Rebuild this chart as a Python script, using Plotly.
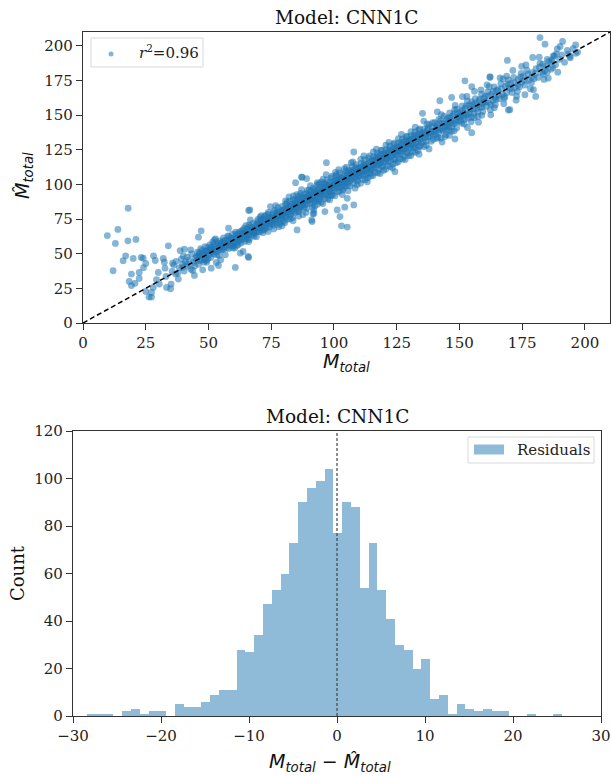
import plotly.graph_objects as go

# ---------------- data ----------------
# scatter: true total mass vs predicted total mass
scatter_points = [
    # low-mass scatter / outliers
    (9.7, 63.1), (13.9, 67.5), (12.9, 57.4), (18.0, 82.8), (17.9, 59.3), (21.1, 60.3),
    (12.0, 37.7), (17.0, 48.5), (16.0, 45.0), (20.0, 46.6), (18.4, 30.0), (19.3, 35.3),
    (19.3, 27.0), (20.7, 28.6), (22.4, 32.2), (22.4, 36.5), (23.2, 47.3), (24.0, 46.8),
    (25.0, 43.0), (24.1, 39.9), (25.0, 22.8), (26.3, 18.7), (27.3, 18.7), (27.3, 22.1),
    (28.0, 25.7), (28.1, 48.5), (28.8, 45.1), (30.0, 36.5), (29.3, 31.2), (30.4, 28.1),
    (32.0, 46.6), (32.4, 43.9), (32.7, 39.6), (33.1, 33.6), (33.3, 25.7), (34.0, 55.7),
    (34.9, 24.7), (35.1, 28.1), (35.7, 43.2), (36.9, 35.3), (38.0, 31.7), (38.7, 52.3),
    (39.7, 40.1), (40.0, 48.5), (40.4, 53.3), (41.3, 42.5), (42.9, 52.8), (43.7, 37.9),
    (44.4, 34.3), (45.3, 48.0), (46.4, 49.7), (47.1, 66.5), (46.0, 61.9), (47.7, 38.4),
    (48.4, 45.6), (49.3, 43.9), (51.1, 39.6), (51.3, 51.6), (52.4, 60.0), (53.1, 43.7),
    (54.0, 41.5), (54.9, 45.6), (55.3, 54.0), (58.0, 68.4), (60.0, 55.7), (60.7, 40.1),
    (66.0, 47.3), (66.0, 81.2), (66.7, 74.4), (66.0, 58.8), (62.7, 50.4), (68.0, 64.8),
    (72.0, 67.2), (74.7, 84.0), (77.3, 79.2), (85.3, 67.2), (84.7, 101.3), (87.3, 105.2),
    (89.1, 104.2), (91.3, 73.2), (92.0, 79.2), (91.1, 74.4), (91.7, 78.7), (96.4, 80.4),
    (102.4, 76.8), (103.0, 70.1), (105.3, 69.2), (101.3, 81.6), (104.3, 83.6), (107.9, 85.2),
    (105.3, 90.0), (97.0, 115.7), (107.9, 123.4), (87.1, 105.2), (66.5, 81.6), (65.8, 48.0),
    (63.8, 51.6), (142.2, 160.4), (152.2, 174.8), (154.9, 170.5), (162.2, 177.7),
    (168.8, 178.2), (169.5, 153.7), (154.9, 137.3), (148.2, 132.8), (124.3, 109.2),
    (135.3, 151.3), (146.9, 162.8), (145.1, 142.6), (182.1, 206.0), (184.1, 201.2),
    (191.1, 203.2), (196.3, 200.7), (194.0, 192.4), (187.2, 184.4), (185.4, 176.7),
    (180.4, 163.5), (170.1, 153.9), (158.9, 149.9), (169.1, 189.5), (179.2, 191.6),
    (174.8, 185.2), (162.2, 177.2), (190.1, 199.6), (189.0, 197.8), (193.4, 194.0),
    (176.1, 164.7), (183.4, 179.6), (185.0, 190.2), (186.6, 188.4), (187.8, 192.9),
    # main band, first pass
    (35.5, 37.2), (36.2, 41.8), (37.1, 44.5), (37.8, 35.9), (38.4, 39.8), (39.2, 46.1), (39.6, 42.3),
    (40.3, 37.5), (40.8, 44.2), (41.5, 47.6), (41.9, 40.9), (42.4, 45.3), (43.0, 38.8), (43.3, 49.9),
    (43.9, 43.6), (44.5, 41.2), (44.8, 47.1),
    (45.2, 44.8), (45.6, 51.2), (46.1, 42.4), (46.5, 48.3), (46.9, 53.6), (47.3, 46.0), (47.8, 50.7),
    (48.2, 43.9), (48.6, 55.1), (49.0, 48.9), (49.4, 52.3), (49.8, 46.5),
    (50.2, 51.8), (50.5, 56.4), (50.9, 47.2), (51.3, 53.9), (51.7, 58.6), (52.0, 49.8), (52.4, 55.2),
    (52.8, 60.7), (53.1, 51.5), (53.5, 57.9), (53.9, 54.0), (54.2, 48.7), (54.6, 59.3), (54.9, 55.8),
    (55.3, 52.6), (55.6, 58.1), (56.0, 61.4), (56.3, 54.9), (56.7, 49.3), (57.0, 59.8), (57.4, 56.2),
    (57.7, 62.9), (58.1, 53.7), (58.4, 58.5), (58.8, 61.1), (59.1, 55.6), (59.5, 64.2), (59.8, 57.3),
    (60.2, 60.9), (60.5, 54.1), (60.9, 63.7), (61.2, 58.4), (61.6, 61.8), (61.9, 56.7), (62.3, 65.5),
    (62.6, 60.2), (63.0, 57.8), (63.3, 63.9), (63.7, 67.1), (64.0, 61.4), (64.4, 58.9), (64.7, 65.2),
    (64.9, 70.3),
    (65.3, 62.8), (65.6, 67.9), (66.0, 64.1), (66.3, 60.5), (66.7, 69.6), (67.0, 66.2), (67.4, 63.4),
    (67.7, 71.8), (68.1, 67.5), (68.4, 64.9), (68.8, 70.2), (69.1, 62.3), (69.5, 73.1), (69.8, 68.4),
    (69.2, 66.0),
    (70.2, 71.3), (70.5, 65.8), (70.9, 74.6), (71.2, 69.9), (71.6, 67.3), (71.9, 72.8), (72.3, 76.9),
    (72.6, 70.5), (73.0, 68.2), (73.3, 74.1), (73.7, 78.6), (74.0, 71.7), (74.4, 69.4), (74.7, 75.9),
    (74.9, 73.2), (73.8, 66.1), (71.0, 77.4),
    (75.2, 73.8), (75.5, 78.2), (75.8, 70.6), (76.1, 76.4), (76.4, 81.3), (76.7, 72.9), (77.0, 75.1),
    (77.3, 79.8), (77.6, 83.4), (77.9, 74.5), (78.2, 77.6), (78.5, 71.8), (78.8, 80.9), (79.1, 76.3),
    (79.4, 84.1), (79.7, 78.8), (76.0, 67.9), (78.0, 69.5), (79.9, 73.4),
    (80.2, 81.7), (80.5, 77.2), (80.8, 85.6), (81.1, 79.4), (81.4, 74.8), (81.7, 83.2), (82.0, 80.1),
    (82.3, 87.9), (82.6, 78.3), (82.9, 84.7), (83.2, 81.5), (83.5, 76.1), (83.8, 89.2), (84.1, 82.8),
    (84.4, 86.3), (84.7, 79.9), (80.4, 72.3), (82.1, 91.0), (83.7, 73.8), (84.9, 84.5), (81.3, 86.8),
    (85.2, 88.1), (85.5, 83.6), (85.8, 91.4), (86.1, 80.7), (86.4, 86.9), (86.7, 93.5), (87.0, 84.3),
    (87.3, 89.7), (87.6, 78.2), (87.9, 87.4), (88.2, 92.8), (88.5, 85.1), (88.8, 90.3), (89.1, 82.6),
    (89.4, 95.7), (89.7, 88.6), (85.9, 77.1), (87.1, 96.2), (88.9, 79.8), (89.9, 92.1), (86.6, 84.0),
    (90.2, 91.0), (90.5, 86.4), (90.8, 94.6), (91.1, 89.2), (91.4, 83.5), (91.7, 97.3), (92.0, 92.1),
    (92.3, 87.8), (92.6, 95.4), (92.9, 90.5), (93.2, 99.6), (93.5, 85.7), (93.8, 93.9), (94.1, 89.3),
    (94.4, 97.8), (94.7, 92.6), (90.6, 99.1), (91.9, 81.7), (93.4, 101.2), (94.9, 87.1), (92.2, 94.0),
    (95.2, 96.3), (95.5, 91.2), (95.8, 100.4), (96.1, 94.7), (96.4, 89.6), (96.7, 98.1), (97.0, 93.4),
    (97.3, 103.2), (97.6, 96.8), (97.9, 91.9), (98.2, 99.5), (98.5, 95.1), (98.8, 104.7), (99.1, 97.6),
    (99.4, 92.3), (99.7, 101.3), (95.6, 86.2), (96.9, 107.1), (98.3, 88.9), (99.9, 96.0), (97.1, 99.8),
    (95.0, 101.9),
    (100.2, 102.1), (100.5, 97.4), (100.8, 105.9), (101.1, 99.2), (101.4, 94.6), (101.7, 103.7),
    (102.0, 100.3), (102.3, 108.4), (102.6, 97.8), (102.9, 104.6), (103.2, 101.1), (103.5, 95.9),
    (103.8, 107.2), (104.1, 102.5), (104.4, 98.7), (104.7, 109.8), (100.4, 91.8), (101.9, 110.6),
    (103.3, 92.7), (104.9, 104.0), (102.4, 103.3), (101.0, 106.8),
    (105.2, 106.3), (105.5, 101.4), (105.8, 110.2), (106.1, 104.1), (106.4, 98.8), (106.7, 108.6),
    (107.0, 103.5), (107.3, 112.9), (107.6, 106.9), (107.9, 100.7), (108.2, 110.7), (108.5, 105.2),
    (108.8, 114.3), (109.1, 107.8), (109.4, 102.6), (109.7, 111.9), (105.6, 95.4), (106.9, 115.6),
    (108.4, 97.3), (109.9, 105.9), (107.4, 109.0), (105.0, 112.4),
    (110.2, 111.5), (110.5, 106.2), (110.8, 115.1), (111.1, 108.9), (111.4, 103.6), (111.7, 113.4),
    (112.0, 109.6), (112.3, 117.8), (112.6, 106.7), (112.9, 114.5), (113.2, 110.3), (113.5, 104.9),
    (113.8, 119.2), (114.1, 112.6), (114.4, 108.1), (114.7, 116.3), (110.6, 100.8), (111.9, 120.5),
    (113.3, 101.9), (114.9, 110.9), (112.4, 113.1),
    (115.2, 116.9), (115.5, 111.3), (115.8, 120.1), (116.1, 114.2), (116.4, 108.6), (116.7, 118.8),
    (117.0, 113.9), (117.3, 122.6), (117.6, 116.4), (117.9, 110.7), (118.2, 120.9), (118.5, 115.3),
    (118.8, 124.5), (119.1, 117.7), (119.4, 112.8), (119.7, 121.8), (115.6, 106.5), (116.9, 125.4),
    (118.4, 107.9), (119.9, 116.1), (117.4, 118.6),
    (120.2, 121.3), (120.5, 116.0), (120.8, 125.2), (121.1, 118.7), (121.4, 113.4), (121.7, 123.9),
    (122.0, 119.5), (122.3, 127.8), (122.6, 116.8), (122.9, 124.6), (123.2, 121.0), (123.5, 114.7),
    (123.8, 129.1), (124.1, 122.4), (124.4, 118.2), (124.7, 126.7), (120.6, 110.9), (121.9, 130.4),
    (123.3, 111.8), (124.9, 121.7),
    (125.2, 126.8), (125.5, 120.9), (125.8, 130.2), (126.1, 124.3), (126.4, 118.5), (126.7, 128.7),
    (127.0, 123.6), (127.3, 132.8), (127.6, 126.1), (127.9, 120.2), (128.2, 131.0), (128.5, 125.7),
    (128.8, 134.4), (129.1, 127.9), (129.4, 122.6), (129.7, 131.5), (125.6, 116.3), (126.9, 136.1),
    (128.4, 117.9), (129.9, 126.4),
    (130.2, 131.6), (130.5, 125.9), (130.8, 135.2), (131.1, 129.0), (131.4, 123.4), (131.7, 133.8),
    (132.0, 128.4), (132.3, 137.9), (132.6, 126.6), (132.9, 134.7), (133.2, 130.8), (133.5, 124.5),
    (133.8, 139.2), (134.1, 132.3), (134.4, 127.6), (134.7, 136.4), (130.6, 120.7), (132.4, 141.3),
    (133.9, 121.8),
    (135.2, 136.6), (135.6, 130.8), (136.0, 140.1), (136.4, 133.9), (136.8, 128.2), (137.2, 139.0),
    (137.6, 134.3), (138.0, 143.2), (138.4, 136.9), (138.8, 131.1), (139.2, 141.4), (139.6, 135.6),
    (135.8, 145.7), (137.9, 125.6), (139.8, 138.2),
    (140.2, 144.5), (140.6, 136.2), (141.0, 141.8), (141.4, 134.1), (141.8, 146.9), (142.2, 139.5),
    (142.6, 133.4), (143.0, 144.2), (143.4, 138.7), (143.8, 149.3), (144.2, 141.6), (144.6, 135.9),
    (141.2, 152.4), (143.1, 130.6), (144.9, 146.7),
    (145.3, 147.8), (145.7, 141.2), (146.1, 151.6), (146.5, 144.4), (146.9, 138.3), (147.3, 149.5),
    (147.7, 143.8), (148.1, 153.9), (148.5, 146.1), (148.9, 140.7), (149.3, 151.2), (149.7, 145.5),
    (146.0, 135.4), (148.3, 157.1), (149.9, 148.9),
    (150.3, 152.4), (150.7, 146.3), (151.1, 156.7), (151.5, 149.2), (151.9, 143.6), (152.3, 155.1),
    (152.7, 150.4), (153.1, 160.2), (153.5, 147.8), (153.9, 157.3), (154.3, 151.9), (154.7, 145.2),
    (151.2, 163.4), (153.2, 141.1), (154.9, 159.8),
    (155.3, 157.6), (155.8, 151.3), (156.3, 161.9), (156.8, 154.8), (157.3, 149.1), (157.8, 160.4),
    (158.3, 155.7), (158.8, 165.1), (159.3, 152.6), (159.8, 162.3), (156.0, 167.2), (157.6, 144.9),
    (159.1, 158.4),
    (160.3, 163.7), (160.8, 156.4), (161.3, 166.8), (161.8, 159.1), (162.3, 153.9), (162.8, 165.2),
    (163.3, 160.6), (163.8, 170.3), (164.3, 157.5), (164.8, 167.6), (161.0, 171.9), (162.5, 150.2),
    (164.1, 163.0),
    (165.3, 168.4), (165.9, 161.7), (166.5, 172.6), (167.1, 164.9), (167.7, 158.3), (168.3, 170.8),
    (168.9, 166.1), (169.5, 175.4), (166.2, 176.8), (167.9, 162.2), (169.8, 169.7),
    (170.4, 172.9), (171.0, 166.3), (171.6, 177.2), (172.2, 169.8), (172.8, 163.6), (173.4, 175.6),
    (174.0, 170.4), (174.6, 180.1), (171.3, 182.3), (173.1, 167.2), (174.8, 173.8),
    (175.5, 178.1), (176.2, 171.6), (176.9, 182.4), (177.6, 175.2), (178.3, 168.9), (179.0, 180.7),
    (179.7, 176.3), (176.5, 186.2), (178.7, 173.4),
    (180.5, 183.6), (181.3, 177.2), (182.1, 187.4), (182.9, 180.9), (183.7, 175.8), (184.5, 185.3),
    (181.8, 191.8), (184.0, 182.1),
    (185.6, 188.7), (186.5, 183.2), (187.4, 192.6), (188.3, 186.4), (189.2, 181.0), (189.9, 190.3),
    (190.8, 193.5), (191.9, 188.1), (193.0, 196.8), (194.2, 191.4), (195.3, 197.9), (196.4, 194.6),
    (197.1, 195.5),
    # main band, second pass
    (45.8, 47.9), (46.7, 45.1), (47.5, 52.4), (48.4, 49.6), (49.2, 45.2), (49.7, 54.6), (46.3, 50.6),
    (48.9, 51.7),
    (50.4, 49.4), (51.0, 54.7), (51.6, 51.3), (52.2, 57.2), (52.7, 53.4), (53.3, 49.1), (53.8, 56.1),
    (54.4, 52.8), (54.8, 57.4), (50.7, 53.1),
    (55.1, 56.4), (55.9, 53.2), (56.5, 57.6), (57.2, 54.3), (57.9, 59.4), (58.6, 56.8), (59.3, 60.5),
    (59.7, 54.2), (56.1, 59.2), (58.2, 62.3),
    (60.4, 58.1), (61.0, 61.2), (61.7, 64.3), (62.1, 59.5), (62.8, 62.7), (63.5, 60.4), (64.1, 64.8),
    (64.6, 62.1), (60.8, 65.6), (63.1, 66.2), (61.4, 56.0), (64.3, 68.4),
    (65.1, 65.7), (65.8, 63.6), (66.4, 66.9), (67.2, 68.8), (67.8, 65.3), (68.6, 68.1), (69.3, 71.5),
    (69.9, 65.9), (66.1, 70.8), (68.2, 62.6), (65.5, 60.4), (69.7, 74.8),
    (70.3, 69.1), (70.8, 72.6), (71.4, 70.2), (72.0, 74.9), (72.5, 68.7), (73.1, 72.3), (73.6, 75.8),
    (74.2, 73.6), (74.6, 71.0), (71.7, 65.2), (73.9, 79.9), (70.6, 76.3), (72.8, 77.8),
    (75.3, 76.0), (75.9, 79.6), (76.5, 74.6), (77.1, 78.1), (77.8, 76.9), (78.4, 79.7), (79.0, 74.2),
    (79.6, 81.7), (75.7, 72.1), (78.9, 77.5), (76.8, 84.7), (79.3, 70.1), (77.4, 71.3),
    (80.3, 79.3), (80.9, 82.9), (81.5, 81.0), (82.2, 84.2), (82.8, 81.4), (83.4, 85.9), (84.0, 80.7),
    (84.6, 88.6), (81.0, 76.4), (83.0, 78.6), (84.3, 84.1), (80.7, 88.1), (82.5, 75.2), (83.9, 91.7),
    (85.4, 86.2), (86.0, 89.3), (86.5, 82.5), (87.2, 87.8), (87.8, 90.9), (88.4, 88.0), (89.0, 86.3),
    (89.6, 90.7), (85.7, 80.3), (88.1, 83.4), (86.8, 91.8), (89.2, 93.6), (87.5, 85.6), (85.1, 92.7),
    (90.3, 88.7), (90.9, 92.3), (91.5, 90.6), (92.1, 96.2), (92.7, 88.9), (93.3, 93.1), (93.9, 96.4),
    (94.5, 91.2), (90.1, 95.8), (92.4, 84.4), (94.0, 100.3), (91.2, 86.1), (93.7, 88.0), (94.8, 95.3),
    (95.3, 94.1), (95.9, 97.7), (96.5, 92.8), (97.2, 98.9), (97.8, 95.0), (98.4, 101.8), (99.0, 94.6),
    (99.6, 99.0), (95.7, 103.8), (97.5, 89.5), (98.9, 92.0), (96.3, 100.9), (99.3, 105.9), (98.0, 97.3),
    (100.3, 99.8), (100.9, 103.1), (101.5, 98.1), (102.1, 105.3), (102.7, 101.4), (103.3, 104.0),
    (103.9, 99.5), (104.5, 106.3), (100.6, 108.7), (102.2, 95.1), (104.2, 111.4), (101.3, 101.5),
    (103.6, 97.0), (104.8, 101.6),
    (105.3, 104.2), (105.9, 108.0), (106.5, 102.6), (107.1, 110.1), (107.7, 104.5), (108.3, 108.3),
    (108.9, 103.9), (109.5, 109.6), (105.4, 99.0), (107.5, 116.3), (109.2, 99.8), (106.2, 106.9),
    (108.7, 112.1), (109.8, 107.2),
    (110.3, 108.9), (110.9, 112.6), (111.5, 107.1), (112.1, 114.8), (112.7, 110.9), (113.3, 107.7),
    (113.9, 115.9), (114.5, 110.5), (110.7, 118.1), (112.5, 103.4), (114.2, 120.6), (111.3, 110.6),
    (113.6, 112.4), (114.8, 106.0),
    (115.3, 114.3), (115.9, 117.6), (116.5, 112.3), (117.1, 120.0), (117.7, 114.8), (118.3, 118.2),
    (118.9, 113.1), (119.5, 119.3), (115.7, 123.4), (117.5, 108.4), (119.2, 124.7), (116.2, 115.6),
    (118.7, 121.7), (119.8, 110.2),
    (120.3, 119.2), (120.9, 122.7), (121.5, 117.1), (122.1, 125.1), (122.7, 120.4), (123.3, 123.3),
    (123.9, 117.9), (124.5, 124.5), (120.7, 128.3), (122.4, 112.9), (124.2, 130.0), (121.2, 120.9),
    (123.6, 126.0), (124.8, 115.6),
    (125.3, 124.0), (125.9, 127.7), (126.5, 122.0), (127.1, 130.3), (127.7, 124.9), (128.3, 128.5),
    (128.9, 122.9), (129.5, 129.8), (125.7, 133.1), (127.4, 118.2), (129.2, 134.9), (126.2, 125.6),
    (128.7, 131.9), (129.8, 120.8),
    (130.3, 129.4), (130.9, 132.7), (131.5, 126.8), (132.1, 135.6), (132.7, 130.2), (133.3, 133.0),
    (133.9, 127.4), (134.5, 134.6), (130.7, 138.0), (132.4, 123.2), (134.2, 140.1), (131.2, 130.8),
    (133.6, 136.2), (134.8, 130.0),
    (135.4, 134.1), (136.1, 137.7), (136.8, 131.4), (137.5, 140.8), (138.2, 134.9), (138.9, 138.4),
    (139.6, 132.6), (135.9, 127.3), (137.1, 143.6), (139.3, 144.5), (136.5, 136.3),
    (140.4, 139.3), (141.1, 143.2), (141.8, 137.4), (142.5, 146.1), (143.2, 140.3), (143.9, 143.8),
    (144.6, 139.4), (140.9, 133.2), (142.8, 150.4), (144.3, 134.5), (141.5, 140.7),
    (145.4, 144.5), (146.2, 148.3), (147.0, 142.0), (147.8, 151.0), (148.6, 144.8), (149.4, 148.6),
    (145.9, 139.1), (147.9, 138.7), (149.0, 154.3), (146.7, 146.4),
    (150.4, 149.8), (151.2, 153.5), (152.0, 147.1), (152.8, 156.7), (153.6, 150.9), (154.4, 154.7),
    (150.9, 144.2), (153.0, 163.5), (154.8, 148.4), (151.7, 151.6),
    (155.5, 154.6), (156.4, 158.5), (157.3, 152.3), (158.2, 161.6), (159.1, 155.9), (159.9, 159.2),
    (155.9, 148.2), (158.6, 168.3), (157.0, 157.1),
    (160.5, 159.8), (161.5, 163.9), (162.5, 157.6), (163.5, 167.1), (164.5, 161.5), (161.9, 170.5),
    (163.9, 155.4),
    (165.6, 164.3), (166.8, 169.1), (168.0, 163.3), (169.2, 172.4), (170.6, 169.0), (171.9, 173.4),
    (173.3, 171.7), (174.3, 177.5), (167.4, 176.0), (172.6, 160.8),
    (175.9, 175.0), (177.3, 179.6), (178.8, 177.5), (180.3, 180.1), (181.9, 184.6), (183.2, 186.8),
    (185.0, 181.1), (186.9, 190.1), (188.6, 194.1), (179.5, 168.4),
]
mass_true = [p[0] for p in scatter_points]
mass_pred = [p[1] for p in scatter_points]
r2_label = "<i>r</i><sup>2</sup>=0.96"

# histogram of residuals (bin counts)
residual_bin_start = -28.4
residual_bin_width = 1.0
residual_counts = [1, 1, 1, 0, 2, 3, 1, 2, 2, 0, 5, 4, 4, 6, 9, 11, 11, 28, 27, 34, 47, 53, 60,
                   73, 90, 96, 99, 104, 77, 90, 88, 54, 73, 53, 41, 30, 28, 20, 24, 7, 9, 1, 5,
                   3, 2, 3, 2, 2, 0, 0, 1, 0, 0, 1]
hist_label = "Residuals"
bin_centers = [residual_bin_start + residual_bin_width * (i + 0.5) for i in range(len(residual_counts))]

scatter_ticks = [0, 25, 50, 75, 100, 125, 150, 175, 200]
hist_xticks = [-30, -20, -10, 0, 10, 20, 30]
hist_yticks = [0, 20, 40, 60, 80, 100, 120]

# ---------------- figure ----------------
W, H = 611, 776
SERIF = "DejaVu Serif"
SANS = "DejaVu Sans"
DARK = "#333333"
BLUE = "#1f77b4"
BAR = "#8fbbd9"

fig = go.Figure()

fig.add_trace(go.Scatter(
    x=mass_true, y=mass_pred, mode="markers", name=r2_label,
    marker=dict(color=BLUE, size=6.8, opacity=0.55, line=dict(width=0)),
    xaxis="x", yaxis="y", showlegend=False,
))
fig.add_trace(go.Scatter(
    x=[0, 210], y=[0, 210], mode="lines",
    line=dict(color="black", width=1.5, dash="5px,3px"),
    xaxis="x", yaxis="y", showlegend=False, hoverinfo="skip",
))

fig.add_trace(go.Bar(
    x=bin_centers, y=residual_counts, width=residual_bin_width, name=hist_label,
    marker=dict(color=BAR, line=dict(width=0)),
    xaxis="x2", yaxis="y2", showlegend=False,
))
fig.add_trace(go.Scatter(
    x=[0, 0], y=[0, 120], mode="lines",
    line=dict(color="#444444", width=1.2, dash="3px,2px"),
    xaxis="x2", yaxis="y2", showlegend=False, hoverinfo="skip",
))

def px_x(p):
    return p / W

def px_y(p):
    return 1 - p / H

axis_common = dict(
    showgrid=False, zeroline=False, showline=True, linecolor=DARK, linewidth=1.2,
    ticks="outside", ticklen=6, tickwidth=1.2, tickcolor=DARK, automargin=False,
    tickfont=dict(family=SERIF, size=15, color="#222222"),
)

fig.update_layout(
    width=W, height=H,
    margin=dict(l=0, r=0, t=0, b=0),
    paper_bgcolor="white", plot_bgcolor="white",
    bargap=0,
    xaxis=dict(domain=[px_x(83), px_x(610)], range=[0, 210], tickvals=scatter_ticks,
               anchor="y", mirror=True, **axis_common),
    yaxis=dict(domain=[px_y(323), px_y(32)], range=[0, 210], tickvals=scatter_ticks,
               anchor="x", mirror=True, **axis_common),
    xaxis2=dict(domain=[px_x(73), px_x(601)], range=[-30, 30], tickvals=hist_xticks,
                tickformat="d", anchor="y2", mirror=True, **axis_common),
    yaxis2=dict(domain=[px_y(716), px_y(431)], range=[0, 120], tickvals=hist_yticks,
                anchor="x2", mirror=True, **axis_common),
    showlegend=False,
)

# legend boxes (drawn in paper coordinates)
def rect(x0, y0, x1, y1, **kw):
    return dict(type="rect", xref="paper", yref="paper",
                x0=px_x(x0), x1=px_x(x1), y0=px_y(y1), y1=px_y(y0), **kw)

shapes = [
    rect(91, 38, 203, 67, fillcolor="white", line=dict(color="#d9d9d9", width=1)),
    dict(type="circle", xref="paper", yref="paper",
         x0=px_x(108.5), x1=px_x(113.5), y0=px_y(56.5), y1=px_y(51.5),
         fillcolor=BLUE, opacity=0.55, line=dict(width=0)),
    rect(468, 437, 594, 463, fillcolor="white", line=dict(color="#d9d9d9", width=1)),
    rect(474, 444.5, 504, 454.5, fillcolor=BAR, line=dict(width=0)),
]
fig.update_layout(shapes=shapes)

annotations = [
    dict(text="Model: CNN1C", x=px_x(346.5), y=px_y(17), xref="paper", yref="paper",
         showarrow=False, xanchor="center", yanchor="middle",
         font=dict(family=SERIF, size=18.5, color="#111111")),
    dict(text="Model: CNN1C", x=px_x(337), y=px_y(416), xref="paper", yref="paper",
         showarrow=False, xanchor="center", yanchor="middle",
         font=dict(family=SERIF, size=18.5, color="#111111")),
    dict(text="<i>M</i><sub><i>total</i></sub>", x=px_x(346), y=px_y(362),
         xref="paper", yref="paper", showarrow=False, xanchor="center", yanchor="middle",
         font=dict(family=SANS, size=19, color="#111111")),
    dict(text="<i>M̂</i><sub><i>total</i></sub>", x=px_x(24), y=px_y(176),
         xref="paper", yref="paper", showarrow=False, xanchor="center", yanchor="middle",
         textangle=-90, font=dict(family=SANS, size=19, color="#111111")),
    dict(text="<i>M</i><sub><i>total</i></sub> − <i>M̂</i><sub><i>total</i></sub>",
         x=px_x(330), y=px_y(762), xref="paper", yref="paper", showarrow=False,
         xanchor="center", yanchor="middle", font=dict(family=SANS, size=19, color="#111111")),
    dict(text="Count", x=px_x(17), y=px_y(573), xref="paper", yref="paper",
         showarrow=False, xanchor="center", yanchor="middle", textangle=-90,
         font=dict(family=SERIF, size=18, color="#111111")),
    dict(text=r2_label, x=px_x(137), y=px_y(52.5), xref="paper", yref="paper",
         showarrow=False, xanchor="left", yanchor="middle",
         font=dict(family=SERIF, size=15, color="#222222")),
    dict(text=hist_label, x=px_x(515), y=px_y(450), xref="paper", yref="paper",
         showarrow=False, xanchor="left", yanchor="middle",
         font=dict(family=SERIF, size=15, color="#222222")),
]
fig.update_layout(annotations=annotations)

fig.write_html("out.html", config={"displayModeBar": False},
               post_script="document.body.style.margin='0px';")
